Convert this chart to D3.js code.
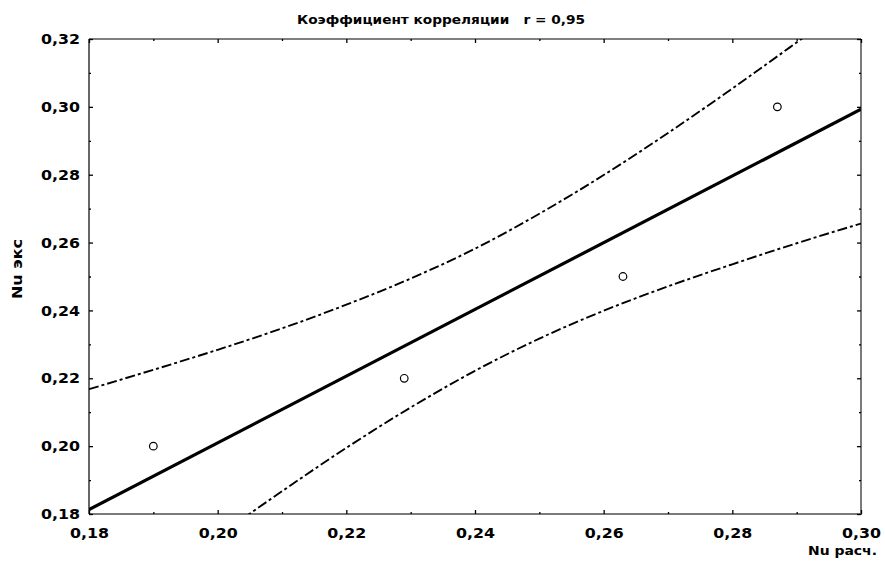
<!DOCTYPE html>
<html>
<head>
<meta charset="utf-8">
<script src="https://cdn.jsdelivr.net/npm/d3@7"></script>
<style>
  body { margin: 0; background: #fff; }
  svg { display: block; font-family: "DejaVu Sans", "Liberation Sans", Arial, sans-serif; }
</style>
</head>
<body>
<svg width="885" height="564"></svg>
<script>
// observed points (Nu расч., Nu экс)
const ptX = [0.19, 0.229, 0.263, 0.287];
const ptY = [0.20, 0.22, 0.25, 0.30];

// fitted line, read at the plot edges
const fitX = [0.18, 0.30];
const fitY = [0.1813, 0.2993];

// confidence band
const bandX = [0.18, 0.19, 0.20, 0.21, 0.22, 0.23, 0.24, 0.25, 0.26, 0.27, 0.28, 0.29, 0.30];
const bandUp = [0.2168, 0.2225, 0.2284, 0.2347, 0.2417, 0.2494, 0.2582, 0.2685, 0.2799, 0.2923, 0.3054, 0.3190, 0.3328];
const bandLo = [0.1456, 0.1597, 0.1734, 0.1867, 0.1995, 0.2114, 0.2222, 0.2317, 0.2399, 0.2471, 0.2536, 0.2598, 0.2656];

const xTicks = [0.18, 0.20, 0.22, 0.24, 0.26, 0.28, 0.30];
const yTicks = [0.18, 0.20, 0.22, 0.24, 0.26, 0.28, 0.30, 0.32];
const xMinor = [0.19, 0.21, 0.23, 0.25, 0.27, 0.29];
const yMinor = [0.19, 0.21, 0.23, 0.25, 0.27, 0.29, 0.31];

const pL = 89, pR = 861, pT = 39, pB = 514;

const svg = d3.select('svg');

const x = d3.scaleLinear().domain([0.18, 0.30]).range([pL, pR]);
const y = d3.scaleLinear().domain([0.18, 0.32]).range([pB, pT]);

const ru = d3.formatLocale({decimal: ',', thousands: ' ', grouping: [3], currency: ['', '']});
const fmt = ru.format('.2f');

svg.append('clipPath').attr('id', 'plot')
  .append('rect')
  .attr('x', pL).attr('y', pT)
  .attr('width', pR - pL).attr('height', pB - pT);

// frame: left/top black, bottom/right grey
svg.append('line').attr('x1', pL).attr('y1', pT).attr('x2', pL).attr('y2', pB)
  .attr('stroke', '#000').attr('stroke-width', 1.2);
svg.append('line').attr('x1', pL).attr('y1', pT).attr('x2', pR).attr('y2', pT)
  .attr('stroke', '#000').attr('stroke-width', 1.2);
svg.append('line').attr('x1', pL).attr('y1', pB).attr('x2', pR + 1).attr('y2', pB)
  .attr('stroke', '#7a7a7a').attr('stroke-width', 2);
svg.append('line').attr('x1', pR).attr('y1', pT).attr('x2', pR).attr('y2', pB)
  .attr('stroke', '#7a7a7a').attr('stroke-width', 2);

// ticks pointing inside, labels on left and bottom
function styleAxis(g) {
  g.attr('font-family', '"DejaVu Sans", sans-serif');
  g.select('.domain').remove();
  g.selectAll('.tick line').attr('stroke', '#000').attr('stroke-width', 1.3);
  g.selectAll('.tick text')
    .attr('font-size', 14.5).attr('font-weight', 'bold').attr('fill', '#000')
    .attr('textLength', 39).attr('lengthAdjust', 'spacingAndGlyphs');
}

svg.append('g').attr('transform', `translate(0,${pB})`)
  .call(d3.axisBottom(x).tickValues(xTicks).tickFormat(fmt).tickSizeInner(-4))
  .call(styleAxis)
  .call(g => g.selectAll('.tick text').attr('y', 24).attr('dy', null));
svg.append('g').attr('transform', `translate(0,${pB})`)
  .call(d3.axisBottom(x).tickValues(xMinor).tickFormat('').tickSizeInner(-2))
  .call(styleAxis);

svg.append('g').attr('transform', `translate(${pL},0)`)
  .call(d3.axisLeft(y).tickValues(yTicks).tickFormat(fmt).tickSizeInner(-4))
  .call(styleAxis)
  .call(g => g.selectAll('.tick text').attr('x', -9));
svg.append('g').attr('transform', `translate(${pL},0)`)
  .call(d3.axisLeft(y).tickValues(yMinor).tickFormat('').tickSizeInner(-2))
  .call(styleAxis);

svg.append('g').attr('transform', `translate(0,${pT})`)
  .call(d3.axisTop(x).tickValues(xTicks).tickFormat('').tickSizeInner(-4))
  .call(styleAxis);
svg.append('g').attr('transform', `translate(0,${pT})`)
  .call(d3.axisTop(x).tickValues(xMinor).tickFormat('').tickSizeInner(-2))
  .call(styleAxis);

svg.append('g').attr('transform', `translate(${pR},0)`)
  .call(d3.axisRight(y).tickValues(yTicks).tickFormat('').tickSizeInner(-4))
  .call(styleAxis);
svg.append('g').attr('transform', `translate(${pR},0)`)
  .call(d3.axisRight(y).tickValues(yMinor).tickFormat('').tickSizeInner(-2))
  .call(styleAxis);

const plot = svg.append('g').attr('clip-path', 'url(#plot)');

const bandLine = d3.line().curve(d3.curveMonotoneX).x(d => x(d[0])).y(d => y(d[1]));

plot.append('path')
  .datum(bandX.map((v, i) => [v, bandUp[i]]))
  .attr('d', bandLine)
  .attr('fill', 'none').attr('stroke', '#000').attr('stroke-width', 1.9)
  .attr('stroke-dasharray', '10,3,3,3');

plot.append('path')
  .datum(bandX.map((v, i) => [v, bandLo[i]]))
  .attr('d', bandLine)
  .attr('fill', 'none').attr('stroke', '#000').attr('stroke-width', 1.9)
  .attr('stroke-dasharray', '10,3,3,3');

plot.append('path')
  .datum(fitX.map((v, i) => [v, fitY[i]]))
  .attr('d', d3.line().x(d => x(d[0])).y(d => y(d[1])))
  .attr('fill', 'none').attr('stroke', '#000').attr('stroke-width', 3.2);

plot.selectAll('.pt')
  .data(ptX.map((v, i) => [v, ptY[i]]))
  .enter()
  .append('circle')
  .classed('pt', true)
  .attr('cx', d => x(d[0]))
  .attr('cy', d => y(d[1]))
  .attr('r', 3.8)
  .attr('fill', '#fff').attr('stroke', '#000').attr('stroke-width', 1.2);

// titles
svg.append('text')
  .attr('x', 297).attr('y', 24)
  .attr('font-size', 12.5).attr('font-weight', 'bold')
  .attr('textLength', 288).attr('lengthAdjust', 'spacingAndGlyphs')
  .style('white-space', 'pre')
  .text('Коэффициент корреляции   r = 0,95');

svg.append('text')
  .attr('transform', 'translate(22,269) rotate(-90)')
  .attr('text-anchor', 'middle')
  .attr('font-size', 13.5).attr('font-weight', 'bold')
  .attr('textLength', 60).attr('lengthAdjust', 'spacingAndGlyphs')
  .style('white-space', 'pre')
  .text('Nu экс');

svg.append('text')
  .attr('x', 877).attr('y', 555)
  .attr('text-anchor', 'end')
  .attr('font-size', 13).attr('font-weight', 'bold')
  .attr('textLength', 69).attr('lengthAdjust', 'spacingAndGlyphs')
  .text('Nu расч.');
</script>
</body>
</html>
